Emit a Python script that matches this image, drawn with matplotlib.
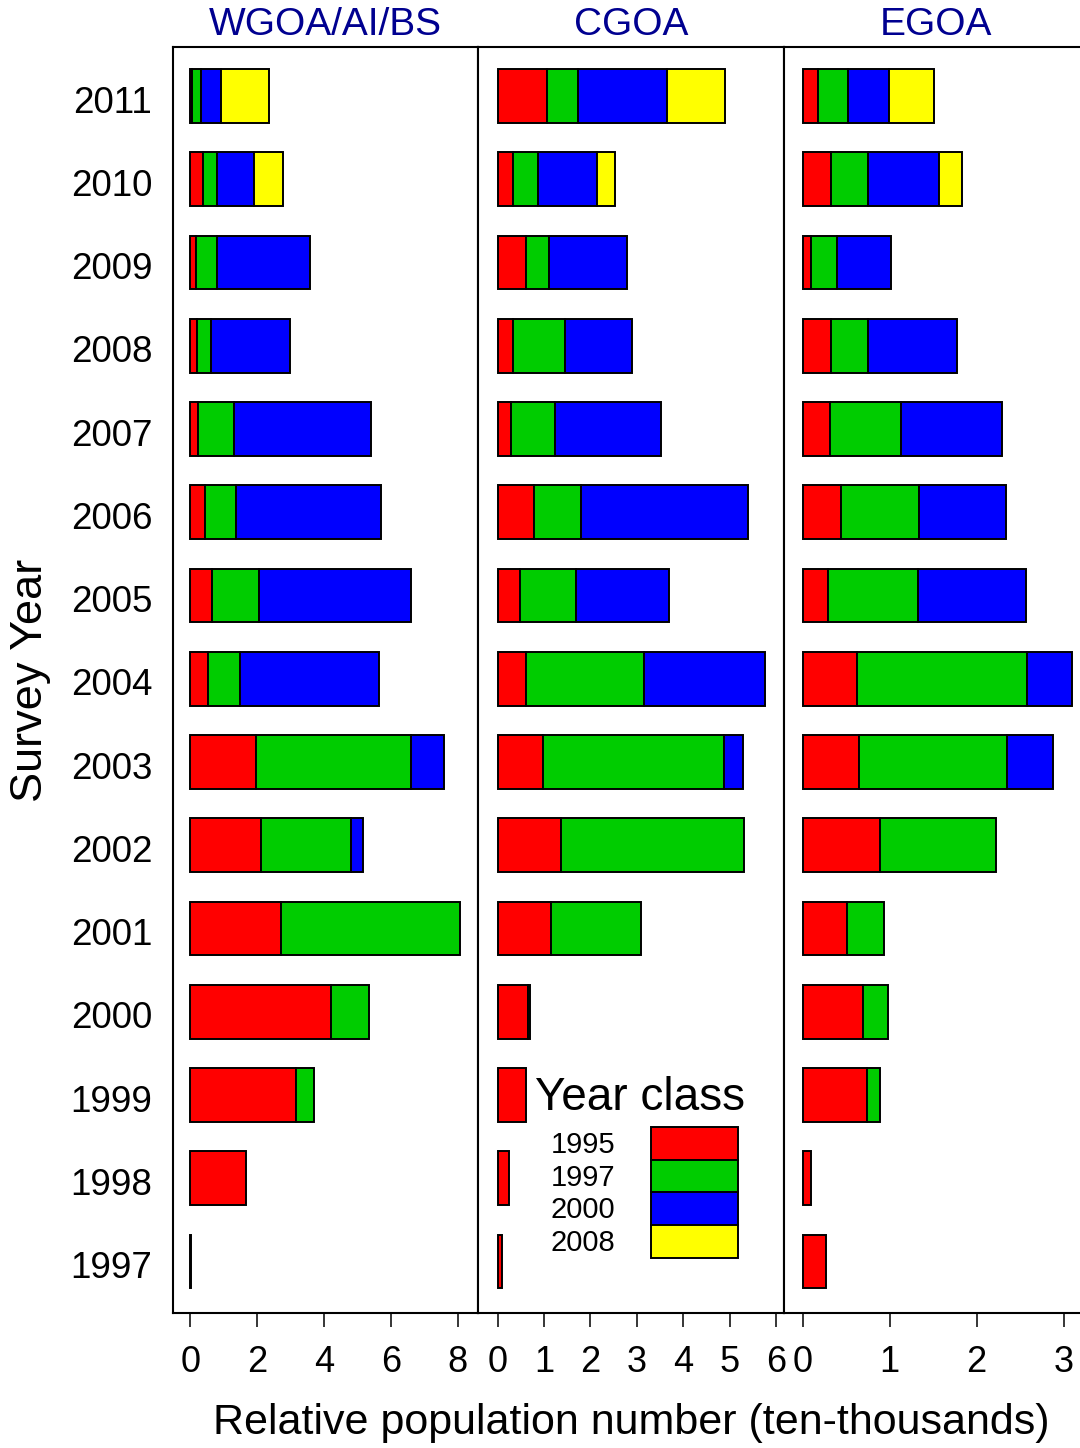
import matplotlib
matplotlib.use("Agg")
import matplotlib.pyplot as plt
from matplotlib.patches import Patch
from matplotlib.transforms import ScaledTranslation
import numpy as np

plt.rcParams['font.family'] = ['Liberation Sans', 'DejaVu Sans']

years = [1997, 1998, 1999, 2000, 2001, 2002, 2003, 2004, 2005, 2006, 2007, 2008, 2009, 2010, 2011]
year_classes = ["1995", "1997", "2000", "2008"]
colors = ["#FF0000", "#00CC00", "#0000FF", "#FFFF00"]

regions = ["WGOA/AI/BS", "CGOA", "EGOA"]

# WGOA/AI/BS (ten-thousands), per survey year 1997..2011
wgoa_1995 = [0.03, 1.67, 3.16, 4.20, 2.70, 2.12, 1.96, 0.52, 0.64, 0.44, 0.24, 0.21, 0.17, 0.39, 0.06]
wgoa_1997 = [0.00, 0.00, 0.53, 1.16, 5.36, 2.70, 4.65, 0.97, 1.42, 0.94, 1.07, 0.40, 0.63, 0.41, 0.26]
wgoa_2000 = [0.00, 0.00, 0.00, 0.00, 0.00, 0.36, 0.99, 4.16, 4.55, 4.33, 4.10, 2.38, 2.78, 1.10, 0.59]
wgoa_2008 = [0.00, 0.00, 0.00, 0.00, 0.00, 0.00, 0.00, 0.00, 0.00, 0.00, 0.00, 0.00, 0.00, 0.86, 1.44]

# CGOA
cgoa_1995 = [0.09, 0.25, 0.62, 0.66, 1.16, 1.36, 0.98, 0.61, 0.49, 0.79, 0.28, 0.33, 0.62, 0.33, 1.07]
cgoa_1997 = [0.00, 0.00, 0.00, 0.04, 1.92, 3.95, 3.90, 2.54, 1.20, 1.01, 0.96, 1.12, 0.49, 0.53, 0.67]
cgoa_2000 = [0.00, 0.00, 0.00, 0.00, 0.00, 0.00, 0.42, 2.62, 2.01, 3.59, 2.28, 1.45, 1.67, 1.29, 1.91]
cgoa_2008 = [0.00, 0.00, 0.00, 0.00, 0.00, 0.00, 0.00, 0.00, 0.00, 0.00, 0.00, 0.00, 0.00, 0.37, 1.26]

# EGOA
egoa_1995 = [0.27, 0.10, 0.74, 0.69, 0.51, 0.89, 0.65, 0.62, 0.29, 0.44, 0.31, 0.33, 0.09, 0.33, 0.18]
egoa_1997 = [0.00, 0.00, 0.15, 0.29, 0.42, 1.33, 1.70, 1.96, 1.04, 0.90, 0.82, 0.42, 0.31, 0.42, 0.34]
egoa_2000 = [0.00, 0.00, 0.00, 0.00, 0.00, 0.00, 0.53, 0.51, 1.24, 1.00, 1.16, 1.02, 0.61, 0.82, 0.47]
egoa_2008 = [0.00, 0.00, 0.00, 0.00, 0.00, 0.00, 0.00, 0.00, 0.00, 0.00, 0.00, 0.00, 0.00, 0.26, 0.52]

region_data = [
    [wgoa_1995, wgoa_1997, wgoa_2000, wgoa_2008],
    [cgoa_1995, cgoa_1997, cgoa_2000, cgoa_2008],
    [egoa_1995, egoa_1997, egoa_2000, egoa_2008],
]
xticks = [[0, 2, 4, 6, 8], [0, 1, 2, 3, 4, 5, 6], [0, 1, 2, 3]]
xlims = [(-0.518, 8.62), (-0.418, 6.166), (-0.218, 3.29)]

W, H = 1080, 1448
fig = plt.figure(figsize=(W / 100, H / 100), dpi=100)

ax_bottom = (H - 1313.3) / H
ax_height = (1313.3 - 47.3) / H
ax_w = 305.3 / W
lefts = [173 / W, 478.3 / W, 783.7 / W]

title_color = "#000090"
down = ScaledTranslation(0, -3 / 100, fig.dpi_scale_trans)
for i, (name, series) in enumerate(zip(regions, region_data)):
    ax = fig.add_axes([lefts[i], ax_bottom, ax_w, ax_height])
    y = np.array(years, dtype=float)
    left = np.zeros(len(years))
    for vals, col in zip(series, colors):
        v = np.array(vals, dtype=float)
        m = v > 0
        ax.barh(y[m], v[m], left=left[m], height=0.645, color=col,
                edgecolor="black", linewidth=1.4)
        left = left + v
    ax.set_xlim(*xlims[i])
    ax.set_ylim(1996.378, 2011.585)
    ax.set_xticks(xticks[i])
    ax.set_xticklabels([str(t) for t in xticks[i]])
    ax.tick_params(axis="x", length=10, width=1.1, pad=13, labelsize=26, direction="out")
    ax.set_yticks(years)
    if i == 0:
        ax.set_yticklabels([str(yy) for yy in years])
        ax.tick_params(axis="y", length=0, pad=15, labelsize=26.5)
        for lab in ax.get_yticklabels():
            lab.set_transform(lab.get_transform() + down)
    else:
        ax.set_yticklabels([])
        ax.tick_params(axis="y", length=0)
    for sp in ax.spines.values():
        sp.set_linewidth(1.5)
    ax.set_title(name, color=title_color, fontsize=28, pad=9)

# Legend (year classes)
handles = [Patch(facecolor=c, edgecolor="black", linewidth=1.4) for c in colors]
fig.legend(handles, year_classes, loc="upper right",
           bbox_to_anchor=(737.7 / W, (H - 1127.3) / H), bbox_transform=fig.transFigure,
           frameon=False, markerfirst=False, fontsize=21, handlelength=2.97,
           handleheight=1.34, handletextpad=1.23, labelspacing=0.0,
           borderpad=0, borderaxespad=0)
fig.text(535 / W, (H - 1110) / H, "Year class", fontsize=33, ha="left", va="baseline")

fig.text(31 / W, (H - 680) / H, "Survey Year", fontsize=32.5, rotation=90,
         ha="center", va="center")
fig.text(631 / W, (H - 1423) / H, "Relative population number (ten-thousands)",
         fontsize=31, ha="center", va="center")

fig.savefig("out.png", dpi=100)
